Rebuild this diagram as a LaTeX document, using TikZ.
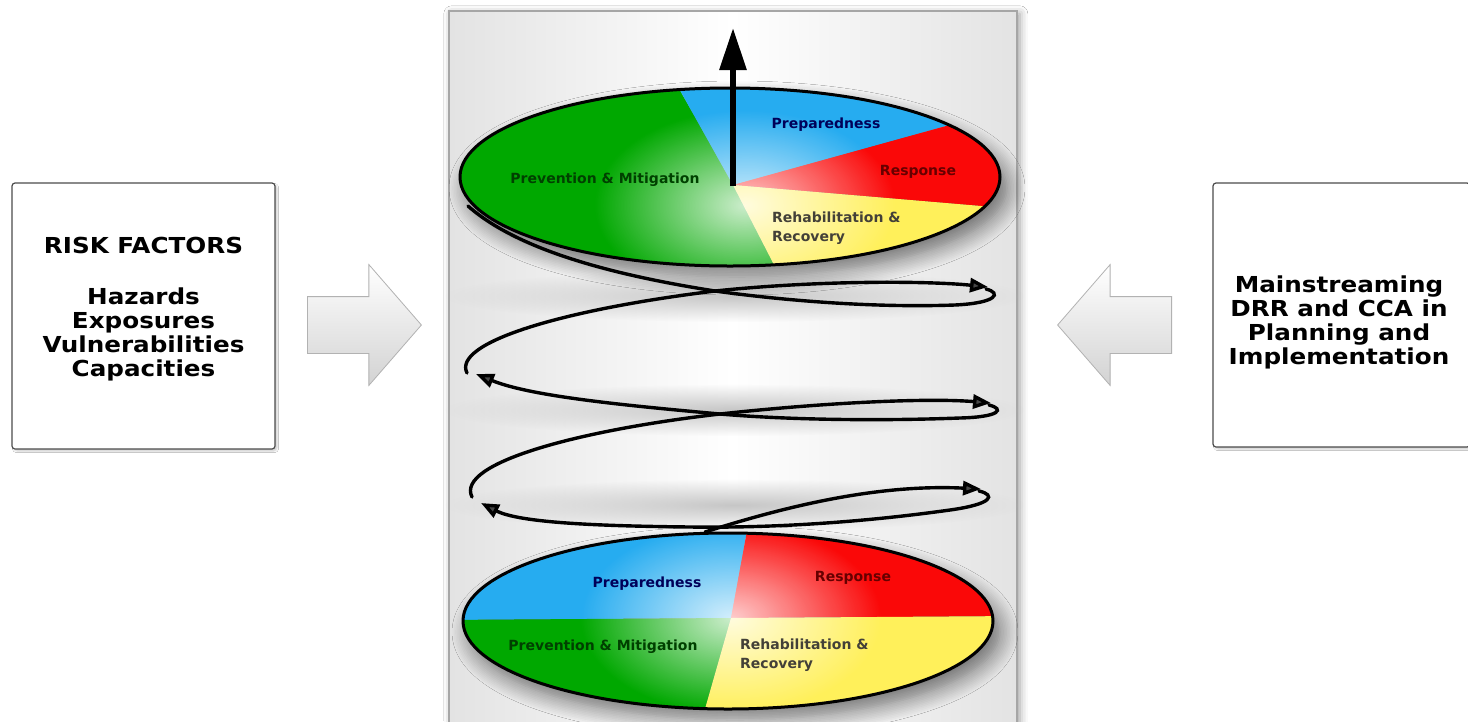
\documentclass[tikz,border=0pt]{standalone}
\usepackage{fontspec}
\newfontfamily\boxfont{DejaVu Sans}[FakeStretch=1.12]
\newfontfamily\piefont{DejaVu Sans}
\usepackage{xcolor}
\usetikzlibrary{positioning,arrows.meta,shapes.arrows,shadows.blur,fadings}

\definecolor{piegreen}{RGB}{0,168,0}
\definecolor{pieblue}{RGB}{38,172,240}
\definecolor{piered}{RGB}{250,8,8}
\definecolor{pieyellow}{RGB}{255,240,90}
\tikzfading[name=glow, inner color=transparent!0, outer color=transparent!100]

\begin{document}
\begin{tikzpicture}[
    x=1pt, y=-1pt,
    side_box/.style={draw=black!70, line width=1.2pt, rounded corners=3pt, fill=white,
        blur shadow={shadow xshift=2pt, shadow yshift=-2pt, shadow opacity=20}},
    box_text/.style={align=center, inner sep=0pt, font=\boxfont\bfseries\fontsize{22}{24}\selectfont},
    panel_box/.style={draw=gray!70, line width=1.6pt, left color=gray!22, right color=gray!22, middle color=white,
        blur shadow={shadow xshift=3pt, shadow yshift=-3pt, shadow blur radius=8pt, shadow opacity=40}},
    block_arrow/.style={single arrow, single arrow head extend=32pt, single arrow tip angle=98,
        inner ysep=28pt, inner xsep=0pt, minimum height=114pt, draw=gray!60, line width=0.8pt,
        top color=white, bottom color=gray!35},
    pie_label/.style={inner sep=0pt, font=\piefont\bfseries\fontsize{14}{19.5}\selectfont},
    rim/.style={draw=black, line width=3pt},
    wheel_shadow/.style={blur shadow={shadow xshift=7pt, shadow yshift=-11pt, shadow blur radius=18pt,
        shadow blur steps=12, shadow opacity=55}},
    coil/.style={line width=3.4pt, line cap=round},
    coil_arrow/.style={coil, -{Triangle[length=18pt,width=14pt]}},
    pivot_arrow/.style={line width=6pt, -{Triangle[length=42pt,width=26pt,fill=black]}}
]
\useasboundingbox (0,0) rectangle (1468,721);
\fill[white] (0,0) rectangle (1468,721);

% Side boxes
\node (risk) [side_box, minimum width=263pt, minimum height=266pt] at (143.5,316) {};
\node (risktext) [box_text] at (143.5,309)
    {RISK FACTORS\\[27pt]Hazards\\Exposures\\Vulnerabilities\\Capacities};
\node (mainstream) [side_box, minimum width=257pt, minimum height=264pt] at (1341.5,315) {};
\node (mainstreamtext) [box_text] at (1339,322)
    {Mainstreaming\\DRR and CCA in\\Planning and\\Implementation};

% Block arrows
\node (riskarrow) [block_arrow, anchor=tail] at (307,325) {};
\node (mainarrow) [block_arrow, shape border rotate=180, anchor=tail] at (1172,325) {};

% Centre panel
\node (panel) [panel_box, minimum width=568pt, minimum height=740pt, anchor=north west] at (448,10) {};

% soft shading behind the coil
\foreach \yy in {296,410,505}
  \fill[gray!45, path fading=glow] (735,\yy) ellipse [x radius=290pt, y radius=26pt];

% Top wheel
\path[wheel_shadow] (730,177) ellipse [x radius=270pt, y radius=89pt];
\coordinate (topc) at (733,185);
\begin{scope}
  \clip (730,177) ellipse [x radius=270pt, y radius=89pt];
  \fill[piegreen]  (topc) -- (663,60) -- (440,60) -- (440,300) -- (787,290) -- cycle;
  \fill[pieblue]   (topc) -- (663,60) -- (1040,60) -- (1040,100) -- cycle;
  \fill[piered]    (topc) -- (1040,100) -- (1040,211) -- cycle;
  \fill[pieyellow] (topc) -- (1040,211) -- (1040,300) -- (787,290) -- cycle;
  \fill[white, opacity=0.8, path fading=glow] (745,205) ellipse [x radius=150pt, y radius=95pt];
\end{scope}
\draw[rim] (730,177) ellipse [x radius=270pt, y radius=89pt];

\node (topprev) [pie_label, text=green!25!black] at (605,180) {Prevention \& Mitigation};
\node (topprep) [pie_label, text=blue!35!black] at (826,125) {Preparedness};
\node (topresp) [pie_label, text=red!40!black] at (918,172) {Response};
\node (toprehab) [pie_label, text=black!85!yellow, align=left, anchor=west] at (772,228) {Rehabilitation \&\\Recovery};

% Bottom wheel
\path[wheel_shadow] (728,621) ellipse [x radius=265pt, y radius=88pt];
\coordinate (botc) at (731,618);
\begin{scope}
  \clip (728,621) ellipse [x radius=265pt, y radius=88pt];
  \fill[pieblue]   (botc) -- (749,520) -- (440,520) -- (440,620) -- cycle;
  \fill[piered]    (botc) -- (749,520) -- (1020,520) -- (1020,616) -- cycle;
  \fill[piegreen]  (botc) -- (440,620) -- (440,730) -- (699,730) -- cycle;
  \fill[pieyellow] (botc) -- (1020,616) -- (1020,730) -- (699,730) -- cycle;
  \fill[white, opacity=0.8, path fading=glow] (731,618) ellipse [x radius=150pt, y radius=95pt];
\end{scope}
\draw[rim] (728,621) ellipse [x radius=265pt, y radius=88pt];

\node (botprep) [pie_label, text=blue!35!black] at (647,584) {Preparedness};
\node (botresp) [pie_label, text=red!40!black] at (853,578) {Response};
\node (botprev) [pie_label, text=green!25!black] at (603,647) {Prevention \& Mitigation};
\node (botrehab) [pie_label, text=black!85!yellow, align=left, anchor=west] at (740,655) {Rehabilitation \&\\Recovery};

% Coil
\draw[coil_arrow] (467,373) .. controls (452,343) and (560,310) .. (715,291) .. controls (820,280) and (930,281) .. (988,287);
\draw[coil] (986,289) .. controls (1002,293) and (997,303) .. (955,305) .. controls (870,308) and (780,300) .. (715,291) .. controls (620,276) and (520,252) .. (468,206);
\draw[coil_arrow] (472,497) .. controls (455,463) and (580,430) .. (720,414) .. controls (830,402) and (930,398) .. (991,403);
\draw[coil_arrow] (989,405) .. controls (1005,409) and (1000,417) .. (960,418) .. controls (880,421) and (790,420) .. (720,414) .. controls (620,405) and (530,396) .. (476,374);
\draw[coil_arrow] (705,532) .. controls (790,505) and (880,484) .. (981,489);
\draw[coil_arrow] (979,491) .. controls (996,495) and (993,504) .. (950,510) .. controls (850,524) and (760,528) .. (690,527) .. controls (600,526) and (520,523) .. (481,503);

% Pivot arrow
\coordinate (pivot) at (733,186);
\coordinate (up) at (733,28);
\draw[pivot_arrow] (pivot) -- (up);

\end{tikzpicture}
\end{document}
